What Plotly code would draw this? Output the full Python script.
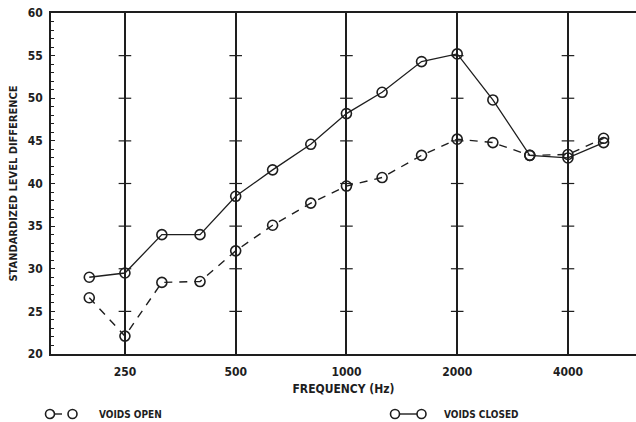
import plotly.graph_objects as go

freqs = [200, 250, 315, 400, 500, 630, 800, 1000, 1250, 1600, 2000, 2500, 3150, 4000, 5000]
voids_closed = [29.0, 29.5, 34.0, 34.0, 38.5, 41.6, 44.6, 48.2, 50.7, 54.3, 55.2, 49.8, 43.3, 43.0, 44.8]
voids_open = [26.6, 22.1, 28.4, 28.5, 32.1, 35.1, 37.7, 39.7, 40.7, 43.3, 45.2, 44.8, 43.3, 43.4, 45.3]
grid_freqs = [250, 500, 1000, 2000, 4000]
grid_labels = ["250", "500", "1000", "2000", "4000"]
cross_levels = [25, 30, 35, 40, 45, 50, 55]

INK = "#1e1e1e"
FONT = "Liberation Sans Narrow, DejaVu Sans Condensed, Arial Narrow, sans-serif"

fig = go.Figure()

# cross ticks on the vertical grid lines
cx, cy = [], []
for f in grid_freqs:
    for lv in cross_levels:
        cx.append(f)
        cy.append(lv)
fig.add_trace(go.Scatter(x=cx, y=cy, mode="markers", hoverinfo="skip", showlegend=False,
                         marker=dict(symbol="line-ew", size=9, line=dict(color=INK, width=1.2))))

fig.add_trace(go.Scatter(x=freqs, y=voids_open, mode="lines+markers", name="VOIDS OPEN",
                         showlegend=False,
                         line=dict(color=INK, width=1.4, dash="8px,7px"),
                         marker=dict(symbol="circle-open", size=10, color=INK, line=dict(width=1.6))))
fig.add_trace(go.Scatter(x=freqs, y=voids_closed, mode="lines+markers", name="VOIDS CLOSED",
                         showlegend=False,
                         line=dict(color=INK, width=1.3),
                         marker=dict(symbol="circle-open", size=10, color=INK, line=dict(width=1.6))))

fig.update_xaxes(type="log", range=[2.197, 3.787], showgrid=True, gridcolor=INK, gridwidth=2,
                 tickvals=grid_freqs, ticktext=grid_labels, ticks="", ticklabelstandoff=6,
                 showline=True, linecolor=INK, linewidth=1.6, mirror=True, zeroline=False,
                 tickfont=dict(family=FONT, size=12, color=INK, weight="bold"),
                 title=dict(text="FREQUENCY (Hz)", standoff=6,
                            font=dict(family=FONT, size=12, color=INK, weight="bold")))
fig.update_yaxes(range=[20, 60], dtick=5, tick0=20, showgrid=False, zeroline=False,
                 showline=True, linecolor=INK, linewidth=1.6,
                 ticks="inside", ticklen=4, tickwidth=1, tickcolor=INK, ticklabelstandoff=4,
                 minor=dict(dtick=1, ticks="inside", ticklen=3, tickwidth=1, tickcolor=INK),
                 tickfont=dict(family=FONT, size=12, color=INK, weight="bold"),
                 title=dict(text="STANDARDIZED LEVEL DIFFERENCE", standoff=8,
                            font=dict(family=FONT, size=11, color=INK, weight="bold")))

# hand-drawn style legend below the plot
W, H = 585.0, 341.0
def px(xp):
    return (xp - 51) / W
def py(yp):
    return (354 - yp) / H

ly = py(414)
shapes = []
shapes.append(dict(type="line", xref="paper", yref="paper", x0=px(54), x1=px(62), y0=ly, y1=ly,
                   line=dict(color=INK, width=1.4)))
shapes.append(dict(type="line", xref="paper", yref="paper", x0=px(399), x1=px(417), y0=ly, y1=ly,
                   line=dict(color=INK, width=1.4)))
for cxp in [50, 72.5, 395, 421.5]:
    shapes.append(dict(type="circle", xref="paper", yref="paper", xsizemode="pixel", ysizemode="pixel",
                       xanchor=px(cxp), yanchor=ly, x0=-4.5, x1=4.5, y0=-4.5, y1=4.5,
                       line=dict(color=INK, width=1.6)))
fig.update_layout(shapes=shapes)
fig.add_annotation(x=px(97), y=ly, xref="paper", yref="paper", text="VOIDS OPEN", showarrow=False,
                   xanchor="left", yanchor="middle",
                   font=dict(family=FONT, size=10, color=INK, weight="bold"))
fig.add_annotation(x=px(442), y=ly, xref="paper", yref="paper", text="VOIDS CLOSED", showarrow=False,
                   xanchor="left", yanchor="middle",
                   font=dict(family=FONT, size=10, color=INK, weight="bold"))

fig.update_layout(width=636, height=422, margin=dict(l=51, r=0, t=13, b=68),
                  paper_bgcolor="white", plot_bgcolor="white", showlegend=False)

fig.write_html("out.html")
